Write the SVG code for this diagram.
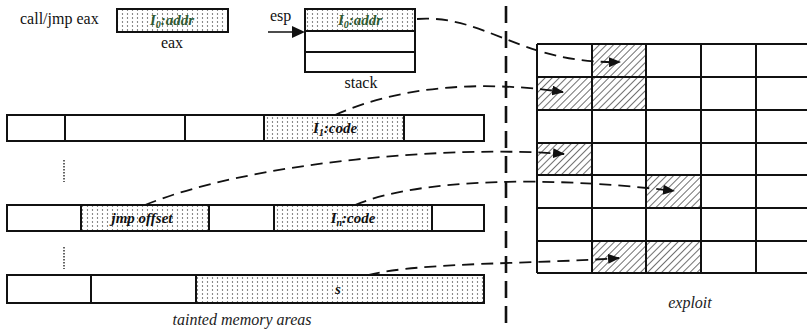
<svg xmlns="http://www.w3.org/2000/svg" width="807" height="330" viewBox="0 0 807 330" font-family="Liberation Serif, Times New Roman, serif">
  <style>
    .lbl { font-size: 16px; fill: #111; }
    .cap { font-size: 16px; font-style: italic; fill: #222; }
    .in { font-size: 15px; font-weight: bold; font-style: italic; fill: #111; }
    .grn { fill: #2f5a33; }
    .box { fill: none; stroke: #111; stroke-width: 2; }
    .cell { fill: #fff; stroke: #111; stroke-width: 2; }
    .dots { fill: url(#dotfill); stroke: #111; stroke-width: 2; }
    .link { fill: none; stroke: #111; stroke-width: 1.8; stroke-dasharray: 12 7; marker-end: url(#tip); }
    .sep { fill: none; stroke: #111; stroke-width: 2.6; stroke-dasharray: 17 8; }
  </style>
  <defs>
    <pattern id="dotfill" width="5" height="4" patternUnits="userSpaceOnUse">
      <rect width="5" height="4" fill="#fff"/>
      <circle cx="2.5" cy="2" r="0.65" fill="#444"/>
    </pattern>
    <pattern id="hatchfill" width="5" height="5" patternUnits="userSpaceOnUse" patternTransform="rotate(45)">
      <rect width="5" height="5" fill="#fff"/>
      <line x1="0" y1="0" x2="0" y2="5" stroke="#333" stroke-width="1.4"/>
    </pattern>
    <marker id="tip" viewBox="0 0 12 10" refX="11" refY="5" markerWidth="12" markerHeight="10" markerUnits="userSpaceOnUse" orient="auto">
      <path d="M0,0 L12,5 L0,10 z" fill="#111"/>
    </marker>
  </defs>

  <!-- register eax -->
  <g id="eax">
    <text class="lbl" x="20" y="24">call/jmp eax</text>
    <rect class="dots" x="117" y="9" width="111" height="23"/>
    <text class="in grn" x="172" y="25" text-anchor="middle">I<tspan font-size="10" dy="3">0</tspan><tspan dy="-3">:addr</tspan></text>
    <text class="lbl" x="172" y="48" text-anchor="middle">eax</text>
  </g>

  <!-- stack with esp -->
  <g id="stack">
    <text class="lbl" x="270" y="21">esp</text>
    <line x1="268" y1="32" x2="295" y2="32" stroke="#111" stroke-width="1.5"/>
    <path d="M292,26 L305,32 L292,38 z" fill="#111"/>
    <rect class="dots" x="305" y="9" width="110" height="22"/>
    <rect class="cell" x="305" y="31" width="110" height="21"/>
    <rect class="cell" x="305" y="52" width="110" height="20"/>
    <text class="in grn" x="360" y="25" text-anchor="middle">I<tspan font-size="10" dy="3">0</tspan><tspan dy="-3">:addr</tspan></text>
    <text class="lbl" x="361" y="88" text-anchor="middle">stack</text>
  </g>

  <!-- tainted memory row 1 -->
  <g id="mem1">
    <rect class="box" x="7" y="115" width="477" height="26"/>
    <rect class="dots" x="264" y="115" width="140" height="26"/>
    <line x1="65" y1="115" x2="65" y2="141" stroke="#111" stroke-width="2"/>
    <line x1="185" y1="115" x2="185" y2="141" stroke="#111" stroke-width="2"/>
    <text class="in" x="335" y="133" text-anchor="middle">I<tspan font-size="10" dy="3">1</tspan><tspan dy="-3">:code</tspan></text>
  </g>

  <g id="gap1">
    <line x1="64" y1="160" x2="64" y2="182" stroke="#111" stroke-width="1.3" stroke-dasharray="1.5 1.5"/>
  </g>

  <!-- tainted memory row 2 -->
  <g id="mem2">
    <rect class="box" x="7" y="205" width="477" height="26"/>
    <rect class="dots" x="81" y="205" width="128" height="26"/>
    <rect class="dots" x="274" y="205" width="158" height="26"/>
    <text class="in" x="142" y="223" text-anchor="middle">jmp offset</text>
    <text class="in" x="353" y="223" text-anchor="middle">I<tspan font-size="10" dy="3">n</tspan><tspan dy="-3">:code</tspan></text>
  </g>

  <g id="gap2">
    <line x1="64" y1="247" x2="64" y2="269" stroke="#111" stroke-width="1.3" stroke-dasharray="1.5 1.5"/>
  </g>

  <!-- tainted memory row 3 -->
  <g id="mem3">
    <rect class="box" x="7" y="275" width="477" height="28"/>
    <rect class="dots" x="196" y="275" width="288" height="28"/>
    <line x1="91" y1="275" x2="91" y2="303" stroke="#111" stroke-width="2"/>
    <text class="in" x="338" y="294" text-anchor="middle">s</text>
    <text class="cap" x="242" y="325" text-anchor="middle">tainted memory areas</text>
  </g>

  <!-- separator -->
  <g id="divider">
    <line class="sep" x1="506" y1="6" x2="506" y2="330"/>
  </g>

  <!-- exploit grid -->
  <g id="exploit">
    <g fill="url(#hatchfill)">
      <rect x="592" y="44" width="54" height="33"/>
      <rect x="537" y="77" width="55" height="33"/>
      <rect x="592" y="77" width="54" height="33"/>
      <rect x="537" y="143" width="55" height="32"/>
      <rect x="646" y="175" width="55" height="33"/>
      <rect x="592" y="241" width="54" height="32"/>
      <rect x="646" y="241" width="55" height="32"/>
    </g>
    <g stroke="#111" stroke-width="2" fill="none">
      <path d="M537,44 H807 M537,77 H807 M537,110 H807 M537,143 H807 M537,175 H807 M537,208 H807 M537,241 H807 M537,273 H807"/>
      <path d="M537,44 V273 M592,44 V273 M646,44 V273 M701,44 V273 M756,44 V273"/>
    </g>
    <text class="cap" x="690" y="308" text-anchor="middle">exploit</text>
  </g>

  <!-- connectors -->
  <g id="links">
    <path class="link" d="M417,19 C485,14 520,64 620,62"/>
    <path class="link" d="M335,115 C400,86 480,80 563,92"/>
    <path class="link" d="M145,205 C250,162 450,145 564,154"/>
    <path class="link" d="M355,205 C420,178 550,176 674,191"/>
    <path class="link" d="M368,275 C420,262 540,264 619,258"/>
  </g>
</svg>
